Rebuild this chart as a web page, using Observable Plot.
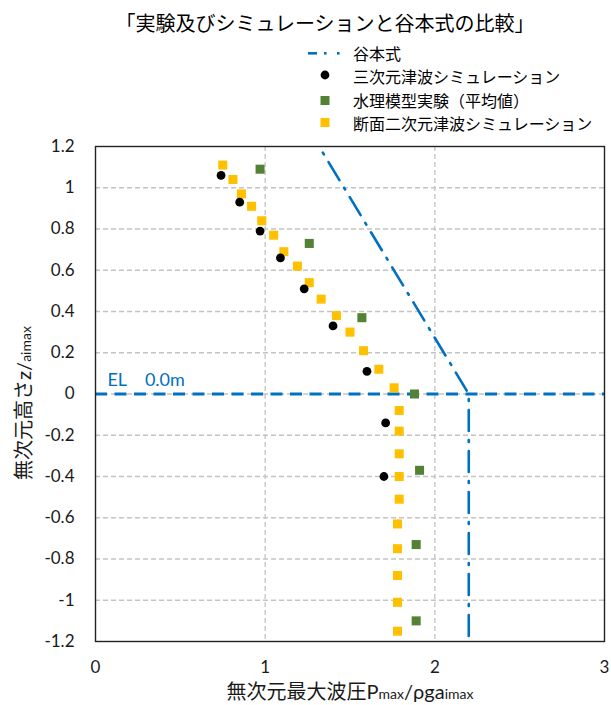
<!DOCTYPE html>
<html>
<head>
<meta charset="utf-8">
<script src="https://cdn.jsdelivr.net/npm/d3@7"></script>
<script src="https://cdn.jsdelivr.net/npm/@observablehq/plot@0.6"></script>
<style>
  body { margin: 0; background: #fff; }
  #wrap { position: relative; width: 611px; height: 705px; overflow: hidden; font-family: "Noto Sans CJK JP", sans-serif; color: #000; }
  #wrap svg.plot { position: absolute; left: 0; top: 0; z-index: 0; }
  #title { position: absolute; left: 0; width: 650px; top: 10px; text-align: center; font-size: 20px; line-height: 26px; white-space: nowrap; z-index: 2; }
  .lg { position: absolute; left: 300px; height: 23px; display: flex; align-items: center; font-size: 16px; line-height: 23px; white-space: nowrap; z-index: 2; }
  .lg svg { width: 53px; height: 23px; flex: none; }
</style>
</head>
<body>
<div id="wrap"></div>
<script>
// ---- data ----
const titleText = "「実験及びシミュレーションと谷本式の比較」";
const seriesNames = ["谷本式", "三次元津波シミュレーション", "水理模型実験（平均値）", "断面二次元津波シミュレーション"];

// 谷本式 (Tanimoto formula)
const tanimotoX = [1.34, 2.2, 2.2];
const tanimotoY = [1.17, 0, -1.2];

// 三次元津波シミュレーション
const sim3dX = [0.74, 0.85, 0.97, 1.09, 1.23, 1.40, 1.60, 1.71, 1.70];
const sim3dY = [1.06, 0.93, 0.79, 0.66, 0.51, 0.33, 0.11, -0.14, -0.40];

// 水理模型実験（平均値）
const expX = [0.97, 1.26, 1.57, 1.88, 1.91, 1.89, 1.89];
const expY = [1.09, 0.73, 0.37, 0.00, -0.37, -0.73, -1.10];

// 断面二次元津波シミュレーション
const sim2dX = [0.75, 0.81, 0.86, 0.92, 0.98, 1.05, 1.11, 1.19, 1.26, 1.33, 1.42, 1.50, 1.58, 1.67, 1.76, 1.79, 1.79, 1.79, 1.79, 1.79, 1.78, 1.78, 1.78, 1.78, 1.78];
const sim2dY = [1.11, 1.04, 0.97, 0.91, 0.84, 0.77, 0.69, 0.62, 0.54, 0.46, 0.38, 0.30, 0.21, 0.12, 0.03, -0.08, -0.18, -0.29, -0.40, -0.51, -0.63, -0.75, -0.88, -1.01, -1.15];

// axes
const xTicks = [0, 1, 2, 3];
const yTicks = [-1.2, -1, -0.8, -0.6, -0.4, -0.2, 0, 0.2, 0.4, 0.6, 0.8, 1, 1.2];
const xGridValues = [1, 2];
const yGridValues = [-1, -0.8, -0.6, -0.4, -0.2, 0, 0.2, 0.4, 0.6, 0.8, 1];
const elLine = [0];
const elLabel = [{x: 0.07, y: 0, text: "EL\u00a0\u00a0\u00a0\u00a00.0m"}];

// ---- build ----
const zip = (xs, ys) => xs.map((x, i) => ({x, y: ys[i]}));
const blue = "#0070C0", black = "#000000", green = "#548235", yellow = "#FFC000";

const plot = Plot.plot({
  width: 611,
  height: 705,
  marginLeft: 95,
  marginRight: 7,
  marginTop: 146,
  marginBottom: 64,
  style: {fontFamily: "Lato, 'Noto Sans CJK JP', sans-serif", fontSize: "17px", color: "#1a1a1a", background: "white"},
  x: {domain: [0, 3]},
  y: {domain: [-1.2, 1.2]},
  marks: [
    Plot.ruleX(xGridValues, {stroke: "#c4c4c4", strokeWidth: 1.3, strokeDasharray: "5,3"}),
    Plot.ruleY(yGridValues, {stroke: "#c4c4c4", strokeWidth: 1.3, strokeDasharray: "5,3"}),
    Plot.ruleY(elLine, {stroke: blue, strokeWidth: 3, strokeDasharray: "12,7.5"}),
    Plot.line(zip(tanimotoX, tanimotoY), {x: "x", y: "y", stroke: blue, strokeWidth: 2.6, strokeDasharray: "2,9,21,9"}),
    Plot.dot(zip(expX, expY), {x: "x", y: "y", symbol: "square", r: 5.1, fill: green, stroke: "none"}),
    Plot.dot(zip(sim2dX, sim2dY), {x: "x", y: "y", symbol: "square", r: 5.1, fill: yellow, stroke: "none"}),
    Plot.dot(zip(sim3dX, sim3dY), {x: "x", y: "y", symbol: "circle", r: 4.4, fill: black, stroke: "none"}),
    Plot.text(elLabel, {x: "x", y: "y", text: "text", textAnchor: "start", dy: -14, fill: blue, fontSize: 18, fontFamily: "Lato, sans-serif"}),
    Plot.frame({stroke: "#222", strokeWidth: 1.4}),
    Plot.axisX(xTicks, {tickSize: 0, tickPadding: 19, tickFormat: d => String(d), label: null}),
    Plot.axisY(yTicks, {tickSize: 0, tickPadding: 21, tickFormat: d => String(d), label: null})
  ]
});
plot.classList.add("plot");
const wrap = document.getElementById("wrap");
wrap.appendChild(plot);

// title (HTML, over the plot's top margin)
const title = document.createElement("div");
title.id = "title";
title.textContent = titleText;
wrap.appendChild(title);

// axis titles with smaller "subscript" parts
const svg = d3.select(plot);
const xl = svg.append("text")
  .attr("x", 350).attr("y", 699)
  .attr("text-anchor", "middle")
  .attr("fill", "#1a1a1a")
  .style("font-family", "'Noto Sans CJK JP', sans-serif")
  .style("font-size", "20px");
xl.append("tspan").text("無次元最大波圧");
xl.append("tspan").text("P").style("font-family", "Lato, sans-serif");
xl.append("tspan").text("max").style("font-family", "Lato, sans-serif").style("font-size", "14px");
xl.append("tspan").text("/ρga").style("font-family", "Lato, sans-serif");
xl.append("tspan").text("imax").style("font-family", "Lato, sans-serif").style("font-size", "14px");

const yl = svg.append("text")
  .attr("transform", "translate(31,403) rotate(-90)")
  .attr("text-anchor", "middle")
  .attr("fill", "#1a1a1a")
  .style("font-family", "'Noto Sans CJK JP', sans-serif")
  .style("font-size", "20px");
yl.append("tspan").text("無次元高さ");
yl.append("tspan").text("z/").style("font-family", "Lato, sans-serif");
yl.append("tspan").text("aimax").style("font-family", "Lato, sans-serif").style("font-size", "14px");

// legend (HTML, over the plot's top margin)
const rowTops = [42, 65, 88.5, 111.5];
seriesNames.forEach((name, i) => {
  const row = document.createElement("div");
  row.className = "lg";
  row.style.top = rowTops[i] + "px";
  let sw = "";
  if (i === 0) {
    sw = `<svg><rect x="8" y="10" width="9" height="2.6" fill="${blue}"/><rect x="24" y="10" width="2.6" height="2.6" fill="${blue}"/><rect x="37" y="10" width="2.6" height="2.6" fill="${blue}"/></svg>`;
  } else if (i === 1) {
    sw = `<svg><circle cx="25" cy="10" r="4.4" fill="${black}"/></svg>`;
  } else if (i === 2) {
    sw = `<svg><rect x="20.5" y="7" width="9" height="9" fill="${green}"/></svg>`;
  } else {
    sw = `<svg><rect x="20.5" y="6" width="9" height="9" fill="${yellow}"/></svg>`;
  }
  row.innerHTML = sw + `<span>${name}</span>`;
  wrap.appendChild(row);
});
</script>
</body>
</html>
